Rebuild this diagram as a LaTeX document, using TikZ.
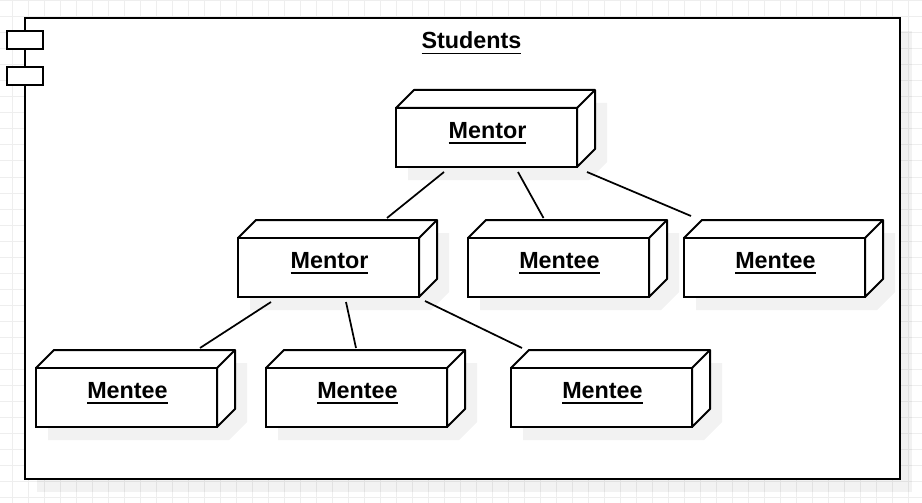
\documentclass[tikz,border=0pt]{standalone}
\usepackage{fontspec}
\setmainfont{Liberation Sans}
\newsavebox{\ulabelbox}
\newcommand{\ulabel}[1]{\sbox{\ulabelbox}{\fontsize{17.5pt}{20pt}\selectfont\bfseries #1}\hspace*{1.5pt}\raisebox{-0.75pt}[0pt][0pt]{\rlap{\usebox{\ulabelbox}}\rule[-4.1pt]{\wd\ulabelbox}{1.3pt}}}
\definecolor{gridline}{HTML}{EEEEEE}
\tikzset{
    gridrule/.style={draw=gridline, line width=0.75pt},
    boxline/.style={draw=black, line width=1.5pt, line join=miter},
    boxshadow/.style={fill=black, fill opacity=0.05},
    unode/.style={boxline, fill=white, rectangle, inner sep=0pt, outer sep=0pt, minimum width=135.75pt, minimum height=44.25pt},
    tabnode/.style={boxline, fill=white, rectangle, inner sep=0pt, minimum width=27pt, minimum height=13.5pt},
    link/.style={draw=black, line width=1.3pt}
}
\begin{document}
\begin{tikzpicture}[x=0.75pt, y=-0.75pt]
    \useasboundingbox (0, 0) rectangle (922, 503);
    \fill[white] (0, 0) rectangle (922, 503);
    \foreach \gx in {12.7, 28.7, ..., 920}
        \draw[gridrule] (\gx, 0) -- (\gx, 503);
    \foreach \gy in {1, 17, ..., 503}
        \draw[gridrule] (0, \gy) -- (922, \gy);
    % frame with its two tabs
    \fill[boxshadow] (37, 31) rectangle (912, 492);
    \draw[boxline, fill=white] (25, 18) rectangle (900, 479);
    \node[tabnode] (tabA) at (25, 40) {};
    \node[tabnode] (tabB) at (25, 76) {};
    \node (title) at (470.5, 48) {\ulabel{Students}};
    % boxes
    \foreach \name/\cx/\cy/\word in {mentorA/486.5/137.5/Mentor, mentorB/328.5/267.5/Mentor, menteeA/558.5/267.5/Mentee, menteeB/774.5/267.5/Mentee, menteeC/126.5/397.5/Mentee, menteeD/356.5/397.5/Mentee, menteeE/601.5/397.5/Mentee} {
        \fill[boxshadow] (\cx-78.5, \cy-16.5) -- ++(18, -18) -- ++(181, 0) -- ++(0, 59) -- ++(-18, 18) -- ++(-181, 0) -- cycle;
        \draw[boxline, line join=bevel, fill=white] (\cx-90.5, \cy-29.5) -- ++(18, -18) -- ++(181, 0) -- ++(0, 59) -- ++(-18, 18) -- ++(0, -59) -- cycle;
        \node[unode] (\name) at (\cx, \cy) {\ulabel{\word}};
        \draw[boxline] (\name.north east) -- ++(18, -18);
    }
    % links
    \foreach \from/\sx/\sy/\to/\tx/\ty in {mentorA/-42.5/5/mentorB/58.5/-20, mentorA/31.5/5/menteeA/-15/-20, mentorA/100.5/5/menteeB/-83.5/-22, mentorB/-57.5/5/menteeC/73.5/-20, mentorB/17.5/5/menteeD/-0.5/-20, mentorB/96.5/4/menteeE/-79.5/-20}
        \draw[link] ([shift={(\sx, \sy)}]\from.south) -- ([shift={(\tx, \ty)}]\to.north);
\end{tikzpicture}
\end{document}
